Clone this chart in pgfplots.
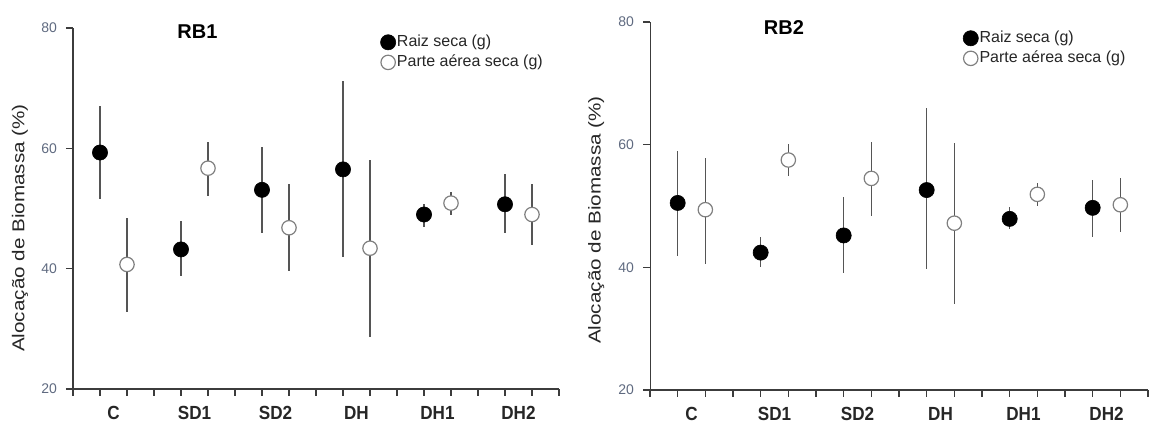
\documentclass[border=0pt]{standalone}
\usepackage{fontspec}
\setmainfont{Liberation Sans}
\newfontfamily\catfont{Liberation Sans}[FakeStretch=0.9]
\newfontfamily\ylabfont{Liberation Sans}[FakeStretch=1.2]
\usepackage{pgfplots}
\pgfplotsset{compat=1.18}

\definecolor{axcol}{HTML}{3C3C3C}
\definecolor{barcol}{HTML}{555555}
\definecolor{opencol}{HTML}{808080}
\definecolor{numcol}{HTML}{5F6A80}

% x y erro+ erro-
\pgfplotstableread{
x y ep em
1 59.3 7.7 7.8
4 43.2 4.7 4.5
7 53.1 7.1 7.1
10 56.5 14.7 14.5
13 49.0 1.8 2.0
16 50.7 5.0 4.7
}\raizA
\pgfplotstableread{
x y ep em
2 40.7 7.8 7.9
5 56.7 4.4 4.6
8 46.8 7.2 7.2
11 43.4 14.6 14.7
14 50.9 1.8 2.0
17 49.0 5.0 5.0
}\parteA
\pgfplotstableread{
x y ep em
1 50.5 8.5 8.7
4 42.4 2.5 2.3
7 45.2 6.3 6.1
10 52.6 13.3 12.9
13 47.9 1.9 1.7
16 49.7 4.5 4.7
}\raizB
\pgfplotstableread{
x y ep em
2 49.4 8.5 8.8
5 57.5 2.6 2.6
8 54.5 6.0 6.1
11 47.2 13.0 13.1
14 51.9 1.9 1.9
17 50.2 4.3 4.5
}\parteB

\pgfplotsset{
  painel/.style={
    scale only axis, clip=false,
    axis lines*=left,
    axis line style={axcol, line width=0.9pt},
    xmin=0, xmax=18, ymin=20, ymax=80,
    xtick={0,...,18}, xticklabels={},
    ytick={20,40,60,80},
    tick align=outside, major tick length=3.5pt,
    every tick/.style={axcol, line width=0.8pt},
    /pgf/number format/assume math mode=true,
    yticklabel style={font=\fontsize{7}{8}\selectfont, text=numcol, xshift=-1pt},
    extra x ticks={1.5,4.5,7.5,10.5,13.5,16.5},
    extra x tick labels={C,SD1,SD2,DH,DH1,DH2},
    extra x tick style={major tick length=0pt,
      xticklabel style={font=\catfont\bfseries\fontsize{9.5}{10}\selectfont, text=black!85, yshift=-5pt}},
    ylabel={Alocação de Biomassa (\%)},
    ylabel style={font=\ylabfont\fontsize{8.6}{9}\selectfont, text=black!85, anchor=center},
    every axis title shift=0pt,
    title style={font=\bfseries\fontsize{10}{12}\selectfont, anchor=center},
    legend cell align=left,
    legend style={draw=none, fill=none, inner sep=0pt,
      font=\fontsize{8}{9}\selectfont, text=black!85, row sep=1.5pt,
      nodes={inner sep=0.6pt}},
    legend image code/.code={\draw[mark repeat=2, mark phase=2, #1]
      plot coordinates {(0pt,0pt) (3.3pt,0pt) (6.6pt,0pt)};},
    raiz/.style={only marks, mark=*, mark size=3.8pt,
      mark options={fill=black, draw=black, line width=0.3pt},
      error bars/.cd, y dir=both, y explicit, error mark=none,
      error bar style={barcol, line width=0.75pt}},
    parte/.style={only marks, mark=*, mark size=3.6pt,
      mark options={fill=white, draw=opencol, line width=0.6pt},
      error bars/.cd, y dir=both, y explicit, error mark=none,
      error bar style={barcol, line width=0.75pt}},
  }
}

\begin{document}
\begin{tikzpicture}
\begin{axis}[painel,
  at={(36.5pt,19pt)}, anchor=south west,
  width=243pt, height=180.5pt,
  ylabel style={at={(axis description cs:-0.109,0.446)}},
  title={RB1}, title style={at={(rel axis cs:0.256,0.99)}},
  legend style={at={(rel axis cs:0.632,0.985)}, anchor=north west},
]
\addplot+[raiz] table[x=x, y=y, y error plus=ep, y error minus=em] {\raizA};
\addplot+[parte] table[x=x, y=y, y error plus=ep, y error minus=em] {\parteA};
\legend{Raiz seca (g), Parte aérea seca (g)}
\end{axis}

\begin{axis}[painel,
  at={(325pt,18.5pt)}, anchor=south west,
  width=249pt, height=184pt,
  y axis line style={line width=0.5pt},
  ylabel style={at={(axis description cs:-0.108,0.462)}},
  title={RB2}, title style={at={(rel axis cs:0.269,0.985)}},
  legend style={at={(rel axis cs:0.628,0.98)}, anchor=north west},
]
\addplot+[raiz] table[x=x, y=y, y error plus=ep, y error minus=em] {\raizB};
\addplot+[parte] table[x=x, y=y, y error plus=ep, y error minus=em] {\parteB};
\legend{Raiz seca (g), Parte aérea seca (g)}
\end{axis}

\pgfresetboundingbox
\path (0,0) rectangle (576pt,213.5pt);
\end{tikzpicture}
\end{document}
